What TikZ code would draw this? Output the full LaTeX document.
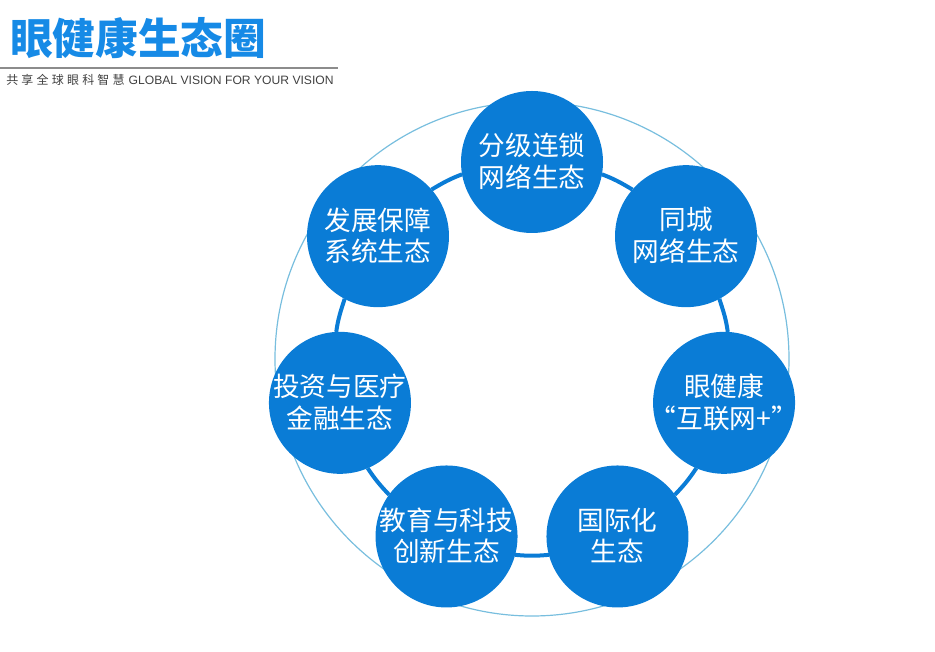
\documentclass[tikz,border=0pt]{standalone}
\usepackage{fontspec}
\usetikzlibrary{backgrounds}
\newfontfamily\cjk{Noto Sans CJK SC}
\newfontfamily\arialf{Liberation Sans}
\definecolor{bubble}{RGB}{10,124,214}
\definecolor{titleblue}{RGB}{22,138,230}
\definecolor{ringlight}{RGB}{120,190,222}
\definecolor{subgray}{RGB}{64,64,64}
\definecolor{rulegray}{RGB}{140,140,140}
\newcommand\twoline[2]{\makebox[0pt]{\raisebox{-2.2pt}[\height][\depth]{\begin{tabular}{@{}c@{}}#1\\#2\end{tabular}}}}
\newcommand\chsp{\hspace{2.4pt}}
\tikzset{
  bub/.style={circle, fill=bubble, minimum size=106.5pt, inner sep=0pt, outer sep=0pt,
    text=white, font=\cjk\fontsize{20}{22.5}\selectfont},
  link/.style={draw=bubble, line width=3pt},
  outerring/.style={draw=ringlight, line width=0.9pt},
  titletext/.style={inner sep=0pt, text=titleblue, font=\cjk\bfseries\fontsize{32}{36}\selectfont},
  subtext/.style={inner sep=0pt, text=subgray},
}
\begin{document}
\begin{tikzpicture}[x=0.75pt,y=0.75pt]
\useasboundingbox (0,0) rectangle (935,652);
% title
\node[titletext, anchor=west] (title) at (10,614) {眼健康生态圈};
\coordinate (ruleL) at (0,584);
\coordinate (ruleR) at (338,584);
\draw[rulegray, line width=0.8pt] (ruleL) -- (ruleR);
\node[subtext, anchor=base west] (sub) at (6,567)
  {{\cjk\fontsize{9}{10}\selectfont 共\chsp 享\chsp 全\chsp 球\chsp 眼\chsp 科\chsp 智\chsp 慧}\hspace{3pt}{\arialf\fontsize{9.1}{10}\selectfont GLOBAL VISION FOR YOUR VISION}};
% outer thin circle
\coordinate (c) at (532,293);
\draw[outerring] (c) circle (257);
% bubbles
\foreach \i/\txt in {
  1/{\twoline{分级连锁}{网络生态}},
  2/{\twoline{同城}{网络生态}},
  3/{\twoline{眼健康}{“互联网+”}},
  4/{\twoline{国际化}{生态}},
  5/{\twoline{教育与科技}{创新生态}},
  6/{\twoline{投资与医疗}{金融生态}},
  7/{\twoline{发展保障}{系统生态}}}{
  \path (c) ++({90-(\i-1)*360/7}:197) node[bub] (n\i) {\txt};
}
% connectors along the inner ring
\begin{scope}[on background layer]
\foreach \i in {1,...,7}{
  \pgfmathsetmacro\pA{90-(\i-1)*360/7}
  \pgfmathtruncatemacro\nxt{mod(\i,7)+1}
  \pgfmathtruncatemacro\angA{round(\pA-100.33)}
  \pgfmathsetmacro\outA{\pA-110.66}
  \pgfmathsetmacro\inB{\pA+59.23}
  \pgfmathtruncatemacro\angB{round(\pA+48.9)}
  \draw[link] (n\i.\angA) to[out=\outA,in=\inB] (n\nxt.\angB);
}
\end{scope}
\end{tikzpicture}
\end{document}
